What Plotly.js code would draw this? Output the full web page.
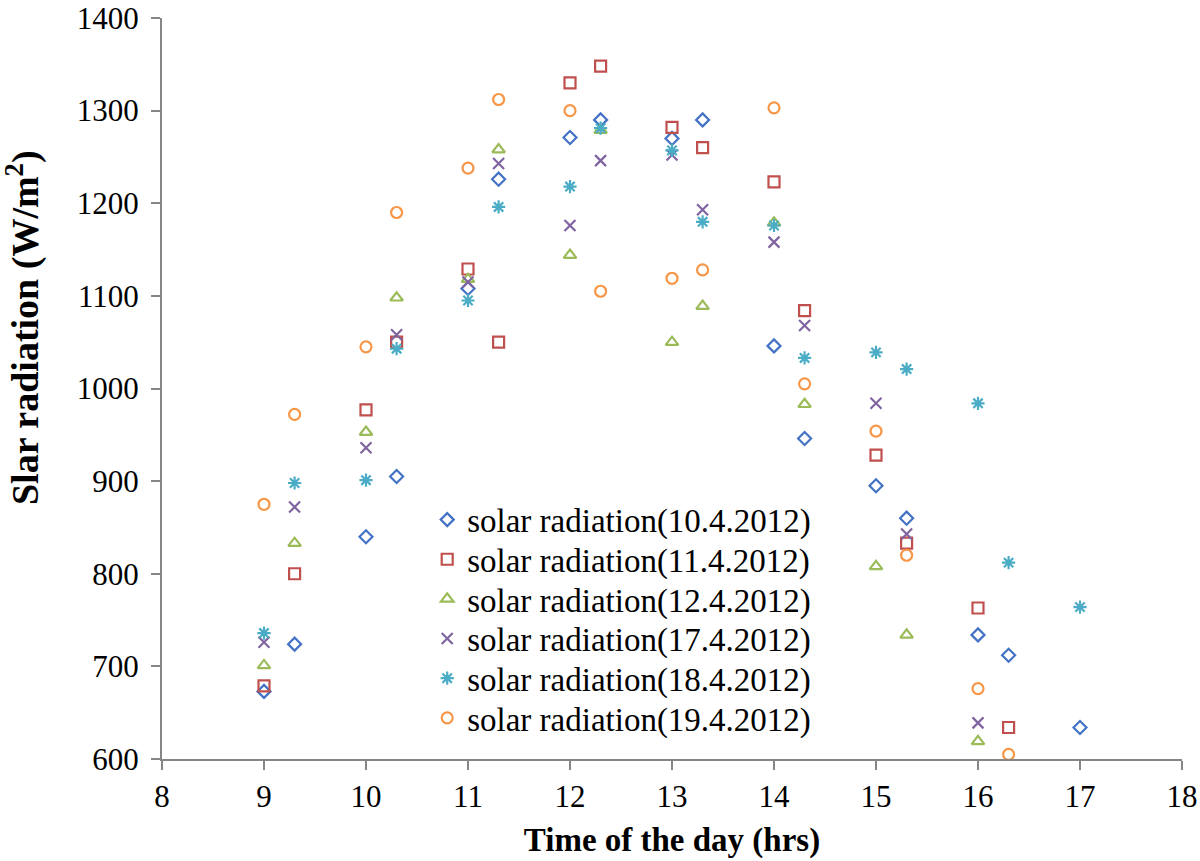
<!DOCTYPE html>
<html>
<head>
<meta charset="utf-8">
<script src="https://cdn.plot.ly/plotly-3.0.1.min.js"></script>
<style>
  html, body { margin: 0; padding: 0; background: #fff; }
  #chart { width: 1200px; height: 861px; }
</style>
</head>
<body>
<div id="chart"></div>
<script>
// time of day (hrs), as typed in the source sheet (9.3 = 9:30)
var hours = [9, 9.3, 10, 10.3, 11, 11.3, 12, 12.3, 13, 13.3, 14, 14.3, 15, 15.3, 16, 16.3, 17];

var rad_10_4 = [673, 724, 840, 905, 1108, 1226, 1271, 1290, 1270, 1290, 1046, 946, 895, 860, 734, 712, 634];
var rad_11_4 = [679, 800, 977, 1050, 1129, 1050, 1330, 1348, 1282, 1260, 1223, 1084, 928, 833, 763, 634, null];
var rad_12_4 = [701, 833, 953, 1098, 1118, 1258, 1144, 1279, 1050, 1089, 1179, 983, 808, 734, 619, null, null];
var rad_17_4 = [726, 872, 936, 1058, 1115, 1243, 1176, 1246, 1252, 1193, 1158, 1068, 984, 843, 639, null, null];
var rad_18_4 = [736, 898, 901, 1043, 1095, 1196, 1218, 1281, 1257, 1180, 1176, 1033, 1039, 1021, 984, 812, 764];
var rad_19_4 = [875, 972, 1045, 1190, 1238, 1312, 1300, 1105, 1119, 1128, 1303, 1005, 954, 820, 676, 605, null];

var seriesNames = ['solar radiation(10.4.2012)', 'solar radiation(11.4.2012)', 'solar radiation(12.4.2012)',
                   'solar radiation(17.4.2012)', 'solar radiation(18.4.2012)', 'solar radiation(19.4.2012)'];
var seriesValues = [rad_10_4, rad_11_4, rad_12_4, rad_17_4, rad_18_4, rad_19_4];
var symbols = ['diamond-open', 'square-open', 'triangle-up-open', 'x-thin-open', 'asterisk-open', 'circle-open'];
var colors = ['#4472C4', '#C0504D', '#9BBB59', '#8064A2', '#4BACC6', '#F79646'];
var sizes = [10, 11, 11, 11, 11, 11];

var SERIF = '"Liberation Serif", "Times New Roman", serif';

// legend rows sit a bit tighter than plotly's default line height,
// so each series gets its own one-row legend
var LEGEND_X = 0.26;
var LEGEND_TOP = 0.323;
var LEGEND_STEP = 0.0535;

var data = [];
var layout = {width: 1200, height: 861,
              paper_bgcolor: '#fff', plot_bgcolor: '#fff',
              margin: {l: 162, r: 18, t: 18, b: 102},
              font: {family: SERIF, color: '#000'},
              showlegend: true};

for (var i = 0; i < seriesValues.length; i++) {
    var legName = i === 0 ? 'legend' : 'legend' + (i + 1);
    data.push({x: hours,
               y: seriesValues[i],
               type: 'scatter',
               mode: 'markers',
               name: seriesNames[i],
               legend: legName,
               marker: {symbol: symbols[i], size: sizes[i], color: colors[i],
                        line: {color: colors[i], width: 2.2}}
              });
    layout[legName] = {x: LEGEND_X, y: LEGEND_TOP - i * LEGEND_STEP,
                       xanchor: 'left', yanchor: 'middle',
                       bgcolor: 'rgba(0,0,0,0)', borderwidth: 0,
                       font: {family: SERIF, size: 33, color: '#000'},
                       itemwidth: 30};
}

var axisCommon = {showline: true, linecolor: '#868686', linewidth: 2,
                  ticks: 'outside', ticklen: 9, tickwidth: 2, tickcolor: '#868686',
                  showgrid: false, zeroline: false,
                  tickfont: {family: SERIF, size: 31, color: '#000'}};

layout.xaxis = Object.assign({}, axisCommon, {
    range: [8, 18], dtick: 1, tick0: 8,
    ticklabelstandoff: 0,
    title: {text: '<b>Time of the day (hrs)</b>', font: {family: SERIF, size: 33}, standoff: 15}
});
layout.yaxis = Object.assign({}, axisCommon, {
    range: [600, 1400], dtick: 100,
    ticklabelstandoff: 6
});

// y title sits above the plot's middle in the source, so it is placed by hand
layout.annotations = [{text: '<b>Slar radiation (W/m<sup>2</sup>)</b>',
                       xref: 'paper', yref: 'paper', x: -0.136, y: 0.582,
                       xanchor: 'center', yanchor: 'middle', textangle: -90,
                       showarrow: false,
                       font: {family: SERIF, size: 38, color: '#000'}}];

var config = {displayModeBar: false, responsive: false};

Plotly.newPlot(document.getElementById('chart'), data, layout, config);
</script>
</body>
</html>
